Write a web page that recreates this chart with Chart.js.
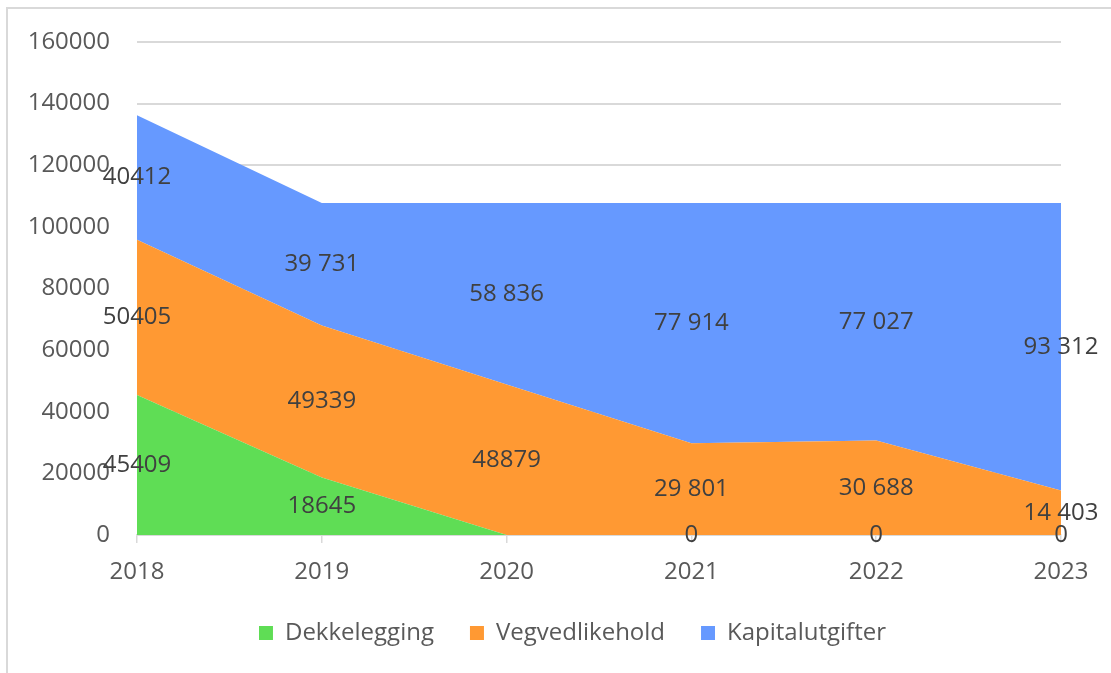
<!DOCTYPE html>
<html>
<head>
<meta charset="utf-8">
<script src="https://cdn.jsdelivr.net/npm/chart.js@4.4.0/dist/chart.umd.min.js"></script>
<style>
    html, body { margin: 0; padding: 0; background: #ffffff; }
    #wrap { position: relative; width: 1111px; height: 673px; overflow: hidden; }
    #frame {
        position: absolute; left: 6px; top: 7px; width: 1110px; height: 700px;
        border-left: 2px solid #d9d9d9; border-top: 2px solid #d9d9d9;
        pointer-events: none;
    }
    canvas { position: absolute; left: 0; top: 0; }
</style>
</head>
<body>
<div id="wrap">
    <canvas id="chart" width="1111" height="673"></canvas>
    <div id="frame"></div>
</div>
<script>
// Chart data
const years = ['2018', '2019', '2020', '2021', '2022', '2023'];

const dekkelegging = [45409, 18645, 0, 0, 0, 0];
const vegvedlikehold = [50405, 49339, 48879, 29801, 30688, 14403];
const kapitalutgifter = [40412, 39731, 58836, 77914, 77027, 93312];

// label text as it is printed on the chart (formatting differs per point)
const dekkeleggingLabels = ['45409', '18645', '', '0', '0', '0'];
const vegvedlikeholdLabels = ['50405', '49339', '48879', '29 801', '30 688', '14 403'];
const kapitalutgifterLabels = ['40412', '39 731', '58 836', '77 914', '77 027', '93 312'];

const yTicks = [0, 20000, 40000, 60000, 80000, 100000, 120000, 140000, 160000];

const FONT = '"Open Sans", "Noto Sans", sans-serif';

// draws each value in the middle of its band, like Excel does
const bandLabels = {
    id: 'bandLabels',
    afterDatasetsDraw(chart) {
        const ctx = chart.ctx;
        const yScale = chart.scales.y;
        const xScale = chart.scales.x;
        const base = years.map(() => 0);

        ctx.save();
        ctx.font = '24px ' + FONT;
        ctx.fillStyle = '#404040';
        ctx.textAlign = 'center';
        ctx.textBaseline = 'middle';

        chart.data.datasets.forEach((ds) => {
            ds.data.forEach((v, i) => {
                const mid = base[i] + v / 2;
                const text = ds.labelText[i];
                if (text) {
                    ctx.fillText(text, xScale.getPixelForValue(i), yScale.getPixelForValue(mid));
                }
                base[i] += v;
            });
        });
        ctx.restore();
    }
};

// the legend in the original sits a bit right of the canvas centre
const legendShift = {
    id: 'legendShift',
    afterUpdate(chart) {
        const lg = chart.legend;
        if (lg) {
            lg.left += 84;
            lg.adjustHitBoxes();
        }
    }
};

const ctx = document.getElementById('chart').getContext('2d');

new Chart(ctx, {
    type: 'line',
    data: {
        labels: years,
        datasets: [
            {
                label: 'Dekkelegging',
                data: dekkelegging,
                labelText: dekkeleggingLabels,
                backgroundColor: '#5fdd55',
                borderColor: '#5fdd55',
                borderWidth: 0,
                fill: 'origin'
            },
            {
                label: 'Vegvedlikehold',
                data: vegvedlikehold,
                labelText: vegvedlikeholdLabels,
                backgroundColor: '#ff9933',
                borderColor: '#ff9933',
                borderWidth: 0,
                fill: '-1'
            },
            {
                label: 'Kapitalutgifter',
                data: kapitalutgifter,
                labelText: kapitalutgifterLabels,
                backgroundColor: '#6699ff',
                borderColor: '#6699ff',
                borderWidth: 0,
                fill: '-1'
            }
        ]
    },
    options: {
        responsive: false,
        animation: false,
        layout: {
            padding: { left: 0, top: 42, right: 50, bottom: 18 }
        },
        elements: {
            point: { radius: 0, hoverRadius: 0 },
            line: { tension: 0 }
        },
        scales: {
            x: {
                offset: false,
                grid: {
                    drawOnChartArea: false,
                    drawTicks: true,
                    tickLength: 8,
                    color: '#d9d9d9',
                    lineWidth: 1.5
                },
                border: { display: true, color: '#d9d9d9', width: 1.5 },
                ticks: {
                    color: '#595959',
                    font: { family: FONT, size: 24 },
                    padding: 15
                },
                afterFit(scale) { scale.height = 50; }
            },
            y: {
                stacked: true,
                min: 0,
                max: 160000,
                afterBuildTicks(scale) {
                    scale.ticks = yTicks.map(v => ({ value: v }));
                },
                grid: {
                    drawTicks: false,
                    color: '#d9d9d9',
                    lineWidth: 2
                },
                border: { display: false },
                ticks: {
                    color: '#595959',
                    font: { family: FONT, size: 24 },
                    padding: 27,
                    callback: v => String(v)
                },
                afterFit(scale) { scale.width = 137; }
            }
        },
        plugins: {
            legend: {
                position: 'bottom',
                labels: {
                    color: '#595959',
                    font: { family: FONT, size: 24 },
                    boxWidth: 14,
                    boxHeight: 14,
                    padding: 36
                }
            },
            tooltip: { enabled: false }
        }
    },
    plugins: [bandLabels, legendShift]
});
</script>
</body>
</html>
